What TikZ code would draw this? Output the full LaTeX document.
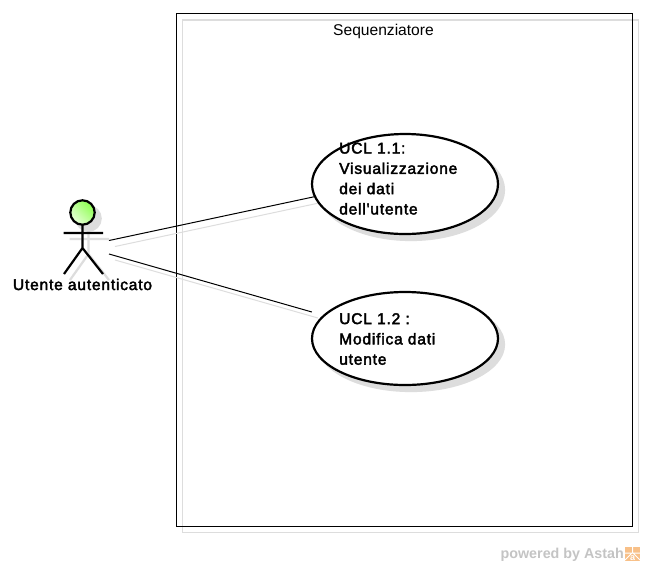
\documentclass[tikz,border=0pt]{standalone}
\usepackage{fontspec}
\setmainfont{Liberation Sans}
\newfontfamily\plainlabel{Liberation Sans}
\newfontfamily\heavylabel{Liberation Sans}[FakeBold=2.5,LetterSpace=5]
\usetikzlibrary{shapes.geometric}
\definecolor{shadowgrey}{HTML}{DDDDDD}
\definecolor{wmgrey}{HTML}{C4C4C4}
\definecolor{astah}{HTML}{F8C088}
\definecolor{headgreen}{HTML}{8CFF50}
\definecolor{headpale}{HTML}{E8FFD8}
\tikzset{
  x=1pt,y=-1pt,
  frameline/.style={draw=black,line width=1.1pt},
  frameshadow/.style={draw=shadowgrey,line width=1.1pt},
  usecase/.style={ellipse,draw=black,fill=white,line width=2.2pt,inner sep=0pt,minimum width=186pt},
  caseshadow/.style={ellipse,draw=shadowgrey,fill=shadowgrey,line width=2.2pt,inner sep=0pt,minimum width=186pt},
  assoc/.style={draw=black,line width=1pt},
  assocshadow/.style={draw=shadowgrey,line width=1pt},
  stick/.style={draw=black,line width=2.2pt},
  stickshadow/.style={draw=shadowgrey,line width=2.2pt},
  casetext/.style={anchor=west,align=left,font=\fontsize{15.6}{20.3}\heavylabel,inner sep=0pt},
}
\begin{document}
\begin{tikzpicture}
\useasboundingbox (0,0) rectangle (645,566);
\fill[white] (0,0) rectangle (645,566);
% frame
\draw[frameshadow] (182.6,20) rectangle (638.6,532.6);
\node[draw=none,fill=none,minimum width=456pt,minimum height=512.8pt,inner sep=0pt,outer sep=0pt] (frame) at (404.6,269.8) {};
\draw[frameline] (frame.south west) rectangle (frame.north east);
\node[font=\fontsize{15.6}{18}\plainlabel,anchor=base] (ftitle) at (383.5,35) {Sequenziatore};
% invisible actor boxes
\node[minimum width=46pt,minimum height=94pt,inner sep=0pt,outer sep=0pt] (actor) at (86,247) {};
\node[minimum width=46pt,minimum height=94pt,inner sep=0pt,outer sep=0pt] (actors) at (92,253) {};
% shadows of ellipses
\node[caseshadow,minimum height=100pt] (ucas) at (411,190) {};
\node[caseshadow,minimum height=93pt] (ucbs) at (411,344.5) {};
% connector shadows
\draw[assocshadow] ([yshift=6.5pt]actors.east) -- (ucas.188);
\draw[assocshadow] ([yshift=-7pt]actors.east) -- ([shift={(1pt,26.5pt)}]ucbs.west);
% ellipses
\node[usecase,minimum height=100pt] (uca) at (405,184) {};
\node[usecase,minimum height=93pt] (ucb) at (405,338.5) {};
% connectors
\draw[assoc] ([yshift=6.5pt]actor.east) -- (uca.188);
\draw[assoc] ([yshift=-7pt]actor.east) -- ([shift={(1pt,26.5pt)}]ucb.west);
% actor shadow
\begin{scope}[shift={(6,6)}]
\draw[stickshadow,fill=shadowgrey] (82.5,212.5) circle[radius=12.2];
\draw[stickshadow] (82.5,225) -- (82.5,248) (63.5,233) -- (103,233) (64,274) -- (82.5,248) -- (103,274);
\end{scope}
% actor
\draw[stick] (82.5,225) -- (82.5,248) (63.5,233) -- (103,233) (64,274) -- (82.5,248) -- (103,274);
\shade[left color=headgreen,right color=headpale,shading angle=-45,draw=black,line width=2.2pt] (82.5,212.5) circle[radius=12.2];
\node[font=\fontsize{15.6}{18}\heavylabel,anchor=base] (alabel) at (82.5,290) {Utente autenticato};
% texts
\node[casetext] (uctexta) at (339,178.6) {UCL 1.1:\\Visualizzazione\\dei dati\\dell'utente};
\node[casetext] (uctextb) at (339,339) {UCL 1.2 :\\Modifica dati\\utente};
% watermark
\node[font=\fontsize{14.3}{16}\selectfont\bfseries,text=wmgrey,anchor=base east,inner sep=0pt] (wm) at (624,558) {powered by Astah};
\fill[astah] (625,547) rectangle (640,561);
\draw[white,line width=1pt] (632.5,547) -- (632.5,553) (625,553) -- (640,553) (632,553) -- (625,560) (633,553) -- (640,560);
\node[font=\fontsize{9}{10}\selectfont\bfseries,text=white,anchor=base,inner sep=0pt] (wmlogo) at (632.5,560.5) {a};
\end{tikzpicture}
\end{document}
